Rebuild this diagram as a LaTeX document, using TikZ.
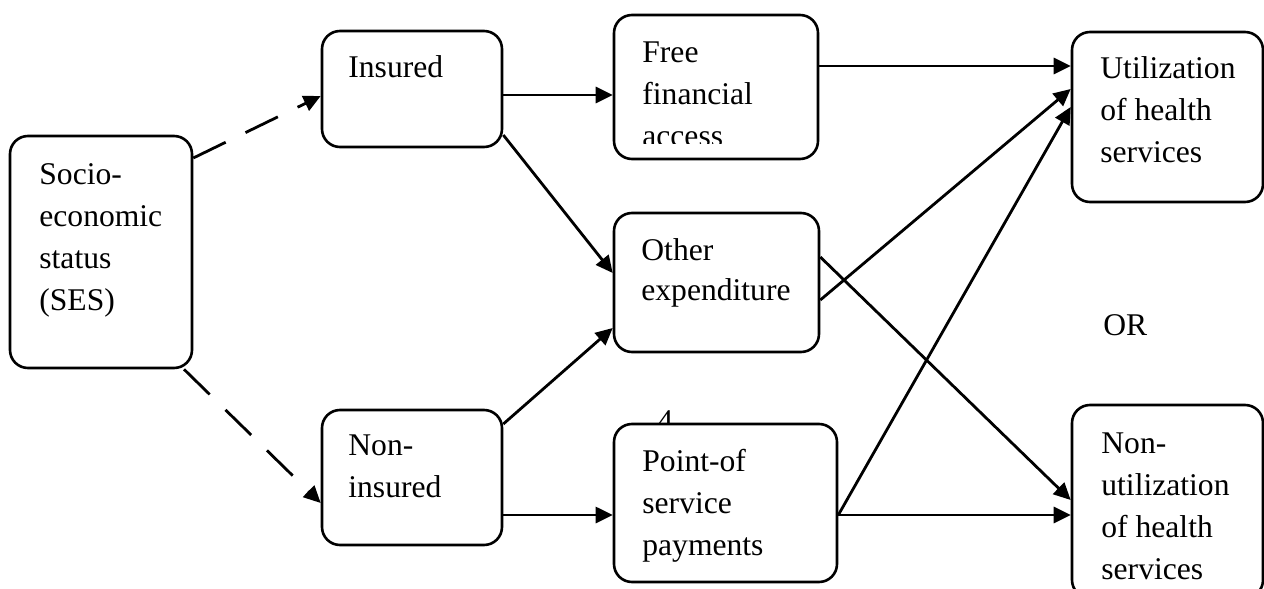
\documentclass[tikz,border=0pt]{standalone}
\usepackage{fontspec}
\setmainfont{Liberation Serif}
\usetikzlibrary{arrows.meta,fit,calc}
\newcommand\diafont{\fontsize{15.8}{21}\selectfont}
\newcommand\diafonttight{\fontsize{15.8}{20}\selectfont}
\begin{document}
\begin{tikzpicture}[x=0.5pt,y=-0.5pt,
  stepbox/.style={draw, line width=1.3pt, rounded corners=9pt, inner sep=0pt, fill=white},
  txt/.style={anchor=north west, inner sep=0pt, align=left, font=\diafont},
  txttight/.style={txt, font=\diafonttight},
  link/.style={line width=1.4pt, -{Triangle[length=8.5pt,width=8pt]}},
  dlink/.style={link, dash pattern=on 18pt off 11pt}]
\useasboundingbox (0,0) rectangle (1264,589);
% stray digit partly hidden behind the box
\node[anchor=base west, inner sep=0pt, font=\diafont] (four) at (657,431) {4};
% boxes
\node[stepbox, fit={(10,136) (192,368)}] (ses) {};
\node[stepbox, fit={(322,31) (502,147)}] (ins) {};
\node[stepbox, fit={(322,410) (502,545)}] (nonins) {};
\node[stepbox, fit={(614,15) (818,159)}] (free) {};
\node[stepbox, fit={(614,213) (819,352)}] (other) {};
\node[stepbox, fit={(614,424) (837,582)}] (point) {};
\node[stepbox, fit={(1072,32) (1263,202)}] (util) {};
\node[stepbox, fit={(1072,405) (1263,598)}] (nonutil) {};
% texts
\node[txt] (sestext) at (39,154.6) {\strut Socio-\\economic\\status\\(SES)};
\node[txt] (instext) at (348,47.6) {\strut Insured};
\node[txt] (noninstext) at (348,425.6) {\strut Non-\\insured};
\begin{scope}
  \clip (free.north west) rectangle (free.east |- 0,143);
  \node[txt] (freetext) at (642,32.6) {\strut Free\\financial\\access};
\end{scope}
\node[txttight] (othertext) at (641,232) {\strut Other\\expenditure};
\node[txt] (pointtext) at (642,441.6) {\strut Point-of\\service\\payments};
\node[txt] (utiltext) at (1100,48.6) {\strut Utilization\\of health\\services};
\node[txt] (nonutiltext) at (1101,423.6) {\strut Non-\\utilization\\of health\\services};
\node[anchor=base west, inner sep=0pt, font=\diafont] (or) at (1103,335) {OR};
% connectors
\draw[dlink] (ses.east |- 0,158) -- (ins.west |- 0,96);
\draw[dlink] (ses.south -| 184,0) -- (nonins.west |- 0,503);
\draw[link] (ins.east |- 0,95) -- (free.west |- 0,95);
\draw[link] (ins.east |- 0,135) -- (other.west |- 0,273);
\draw[link] (nonins.east |- 0,424) -- (other.west |- 0,328);
\draw[link] (nonins.east |- 0,515) -- (point.west |- 0,515);
\draw[link] (free.east |- 0,66) -- (util.west |- 0,66);
\draw[link] (other.east |- 0,300) -- (util.west |- 0,89);
\draw[link] (other.east |- 0,257) -- (nonutil.west |- 0,500);
\draw[link] (point.east |- 0,515) -- (util.west |- 0,107);
\draw[link] (point.east |- 0,515) -- (nonutil.west |- 0,515);
\end{tikzpicture}
\end{document}
